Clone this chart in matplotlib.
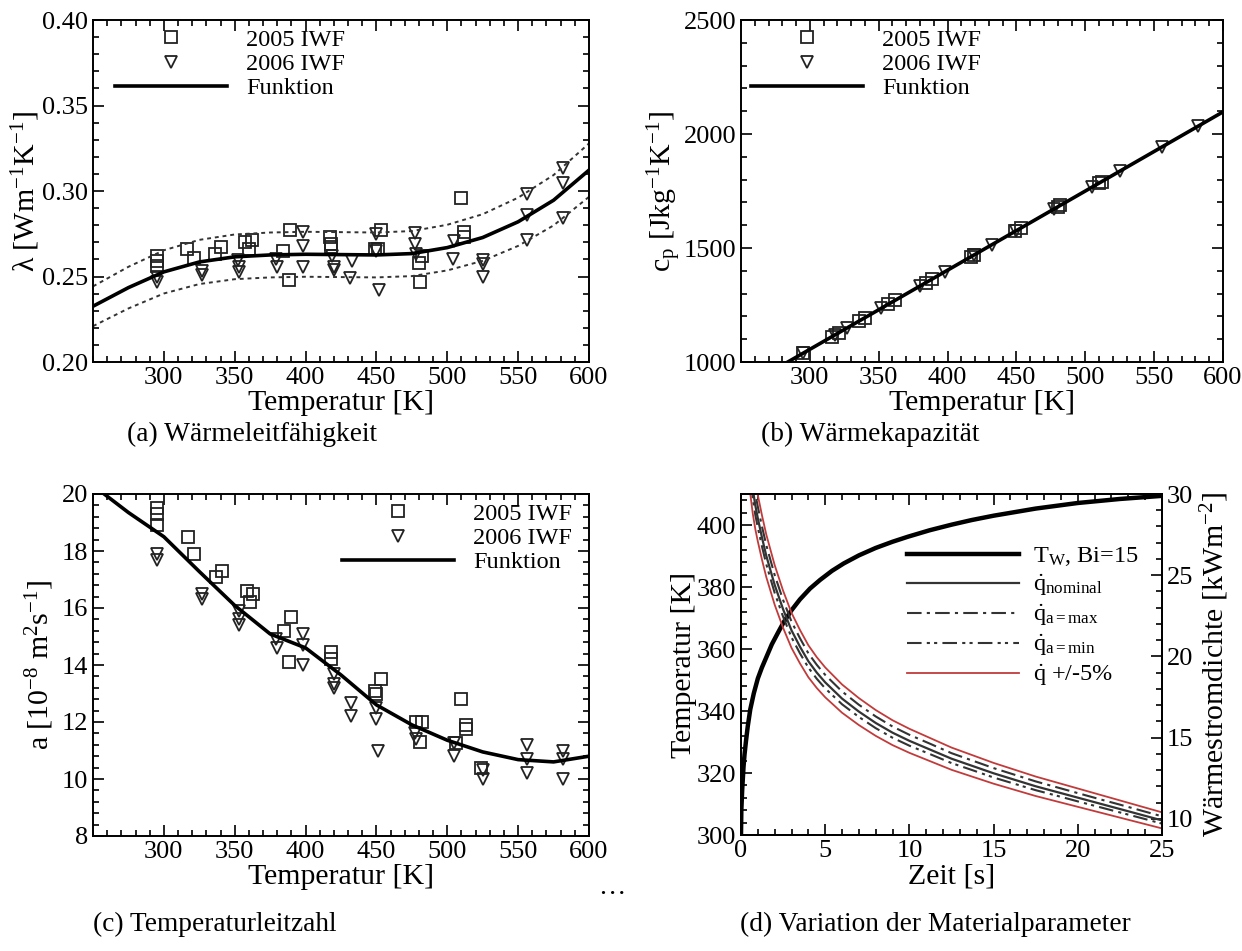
import numpy as np
import matplotlib
matplotlib.use("Agg")
import matplotlib.pyplot as plt
from matplotlib.lines import Line2D
from matplotlib.ticker import MultipleLocator, FormatStrFormatter

plt.rcParams['font.family'] = ['Liberation Serif', 'DejaVu Serif']
plt.rcParams['mathtext.fontset'] = 'custom'
plt.rcParams['mathtext.rm'] = 'Liberation Serif'
plt.rcParams['mathtext.it'] = 'Liberation Serif:italic'
plt.rcParams['mathtext.default'] = 'regular'

# Messpunkte (Temperatur in K)
T05 = [295, 295, 295, 316, 321, 336, 340, 357, 360, 362, 384, 389, 388, 417, 418, 418,
       449, 451, 453, 480, 482, 481, 510, 512, 512]
T06 = [295, 295, 327, 327, 352, 353, 353, 379, 380, 398, 398, 398, 419, 420, 420, 431, 433,
       450, 450, 452, 477, 477, 478, 504, 505, 525, 525, 525, 556, 556, 556, 582, 582, 582]

# Waermeleitfaehigkeit
lam05 = [0.262, 0.259, 0.256, 0.266, 0.261, 0.263, 0.267, 0.270, 0.266, 0.2716, 0.265, 0.277,
         0.248, 0.273, 0.269, 0.267, 0.266, 0.266, 0.277, 0.258, 0.262, 0.2465, 0.296, 0.276, 0.273]
lam06 = [0.250, 0.247, 0.2507, 0.253, 0.2595, 0.2556, 0.2527, 0.2605, 0.2556, 0.276, 0.2677, 0.2556,
         0.262, 0.2556, 0.2537, 0.249, 0.259, 0.275, 0.265, 0.242, 0.2755, 0.269, 0.263,
         0.2605, 0.271, 0.2595, 0.2576, 0.2497, 0.2985, 0.2859, 0.2712, 0.3132, 0.3044, 0.284]
T_fun = [250, 275, 300, 325, 350, 375, 400, 425, 450, 475, 500, 525, 550, 575, 600]
lam_fun = [0.2326, 0.2435, 0.2527, 0.2585, 0.2615, 0.2626, 0.263, 0.2628, 0.2626, 0.2634,
           0.2669, 0.2728, 0.282, 0.2946, 0.3122]
lam_band = 0.05  # +/- 5 %

# Waermekapazitaet
T05_cp = [295, 316, 321, 336, 340, 357, 362, 384, 389, 417, 419, 449, 453, 480, 482, 510, 512]
cp05 = [1038, 1111, 1128, 1180, 1194, 1253, 1271, 1347, 1364, 1462, 1468, 1573, 1586, 1680, 1687,
        1784, 1791]
T06_cp = [295, 318, 327, 352, 380, 398, 419, 432, 450, 477, 505, 525, 556, 582]
cp06 = [1038, 1118, 1149, 1236, 1333, 1396, 1468, 1514, 1576, 1670, 1767, 1836, 1944, 2034]
T_cp_fun = [250, 600]
cp_fun = [882, 2097]

# Temperaturleitzahl
a05_T = [295, 295, 295, 317, 321, 337, 341, 359, 361, 363, 385, 390, 388, 418, 418, 449, 450, 453,
         478, 482, 481, 510, 513, 513, 506, 524]
a05 = [19.5, 19.3, 18.9, 18.5, 17.9, 17.1, 17.3, 16.6, 16.2, 16.5, 15.2, 15.7, 14.1, 14.45, 14.2,
       13.1, 13.0, 13.5, 12.0, 12.0, 11.3, 12.8, 11.9, 11.75, 11.25, 10.4]
a06_T = [295, 295, 327, 327, 353, 353, 353, 379, 380, 398, 398, 398, 420, 420, 420, 432, 432,
         450, 450, 451, 477, 478, 505, 505, 525, 525, 556, 556, 556, 582, 582, 582]
a06 = [17.9, 17.7, 16.5, 16.3, 15.9, 15.6, 15.4, 14.9, 14.6, 15.1, 14.7, 14.0, 13.7, 13.35, 13.2,
       12.65, 12.2, 12.5, 12.1, 11.0, 11.6, 11.4, 11.25, 10.8, 10.3, 10.0, 11.2, 10.7, 10.2, 11.0,
       10.7, 10.0]
a_fun = [20.3, 19.35, 18.5, 17.28, 16.09, 15.09, 14.6, 13.65, 12.6, 11.9, 11.36, 10.95, 10.68,
         10.6, 10.8]

# Variation der Materialparameter
t_w = [0, 0.02, 0.07, 0.15, 0.21, 0.3, 0.4, 0.55, 0.76, 1.0, 1.24, 1.5, 1.83, 2.2, 2.54, 3.0,
       3.5, 4.1, 4.7, 5.4, 6.1, 7.0, 8.0, 9.0, 9.9, 11.2, 12.5, 13.7, 15.0, 17.5, 20.0, 22.5, 25.0]
T_w = [300, 308, 314.5, 322, 326, 330.5, 335, 340.5, 345.7, 350.5, 354, 357.3, 361.5, 365.3,
       368.7, 372.5, 376, 379.5, 382.3, 385.2, 387.6, 390.2, 392.6, 394.6, 396.2, 398.3, 400.1,
       401.6, 403.0, 405.3, 407.1, 408.4, 409.4]
t_q = [0.4, 0.55, 0.7, 0.85, 1.0, 1.25, 1.5, 1.75, 2, 2.5, 3, 3.5, 4, 4.5, 5, 6, 7, 8, 9, 10,
       11.25, 12.5, 13.75, 15, 16.25, 17.5, 18.75, 20, 21.25, 22.5, 23.75, 25]
q_nom = [34.0, 31.6, 30.3, 29.3, 28.5, 27.3, 26.2, 25.3, 24.4, 22.9, 21.6, 20.6, 19.7, 19.0,
         18.4, 17.4, 16.6, 15.9, 15.3, 14.8, 14.25, 13.7, 13.25, 12.8, 12.4, 12.0, 11.65, 11.3,
         10.95, 10.6, 10.25, 9.9]
q_amax = [34.85, 32.39, 31.06, 30.03, 29.21, 27.98, 26.86, 25.93, 25.01, 23.47, 22.14, 21.12,
          20.19, 19.48, 18.86, 17.84, 17.02, 16.30, 15.68, 15.17, 14.61, 14.04, 13.58, 13.12,
          12.71, 12.30, 11.94, 11.58, 11.22, 10.87, 10.51, 10.15]
q_amin = [33.32, 30.97, 29.69, 28.71, 27.93, 26.75, 25.68, 24.79, 23.91, 22.44, 21.17, 20.19,
          19.31, 18.62, 18.03, 17.05, 16.27, 15.58, 14.99, 14.50, 13.97, 13.43, 12.99, 12.54,
          12.15, 11.76, 11.42, 11.07, 10.73, 10.39, 10.05, 9.70]
q_var = 0.05
q_start = [16.8, 40.0]  # senkrechter Anlauf der unteren Kurve bei t = 0

W, H = 1242, 951
fig = plt.figure(figsize=(W / 100, H / 100), dpi=100)


def box(l, t, r, b):
    return [l / W, 1 - b / H, (r - l) / W, (b - t) / H]


ax_a = fig.add_axes(box(93, 20, 589, 362))
ax_b = fig.add_axes(box(741, 20, 1223, 362))
ax_c = fig.add_axes(box(93, 494, 589, 836))
ax_d = fig.add_axes(box(741, 494, 1162, 835))

tick_fs = 19
lab_fs = 21.5
leg_fs = 17.5
cap_fs = 19.7
mk = dict(ms=8.5, mfc='none', mec='#222222', mew=1.3, ls='none')


def style(ax, right=True):
    for s in ax.spines.values():
        s.set_linewidth(1.4)
    ax.tick_params(which='both', direction='in', top=True, right=right, labelsize=tick_fs, width=1.2)
    ax.tick_params(which='major', length=8)
    ax.tick_params(which='minor', length=4)


def marker_legend(ax, x, y):
    h = [Line2D([], [], marker='s', **mk), Line2D([], [], marker='v', **mk),
         Line2D([], [], color='black', lw=2.6)]
    ax.legend(h, ['2005 IWF', '2006 IWF', 'Funktion'], loc='upper left', bbox_to_anchor=(x, y),
              frameon=False, fontsize=leg_fs, handlelength=4.6, handletextpad=0.8,
              labelspacing=0.1, borderpad=0, borderaxespad=0)


# (a)
ax = ax_a
ax.plot(T05, lam05, marker='s', **mk)
ax.plot(T06, lam06, marker='v', **mk)
lam_fun = np.array(lam_fun)
ax.plot(T_fun, lam_fun * (1 + lam_band), color='#333333', lw=1.4, ls=(0, (2, 2)))
ax.plot(T_fun, lam_fun * (1 - lam_band), color='#333333', lw=1.4, ls=(0, (2, 2)))
ax.plot(T_fun, lam_fun, color='black', lw=2.6)
ax.set_xlim(250, 600)
ax.set_ylim(0.2, 0.4)
ax.set_xticks([300, 350, 400, 450, 500, 550, 600])
ax.xaxis.set_minor_locator(MultipleLocator(10))
ax.yaxis.set_major_locator(MultipleLocator(0.05))
ax.yaxis.set_minor_locator(MultipleLocator(0.01))
ax.yaxis.set_major_formatter(FormatStrFormatter('%.2f'))
ax.set_xlabel('Temperatur [K]', fontsize=lab_fs, labelpad=1)
ax.set_ylabel(r'$\lambda$ [Wm$^{-1}$K$^{-1}$]', fontsize=lab_fs, labelpad=0)
style(ax)
marker_legend(ax, 0.044, 0.975)

# (b)
ax = ax_b
ax.plot(T05_cp, cp05, marker='s', **mk)
ax.plot(T06_cp, cp06, marker='v', **mk)
ax.plot(T_cp_fun, cp_fun, color='black', lw=2.6)
ax.set_xlim(250, 600)
ax.set_ylim(1000, 2500)
ax.set_xticks([300, 350, 400, 450, 500, 550, 600])
ax.xaxis.set_minor_locator(MultipleLocator(10))
ax.yaxis.set_major_locator(MultipleLocator(500))
ax.yaxis.set_minor_locator(MultipleLocator(100))
ax.set_xlabel('Temperatur [K]', fontsize=lab_fs, labelpad=1)
ax.set_ylabel(r'c$_p$ [Jkg$^{-1}$K$^{-1}$]', fontsize=lab_fs, labelpad=0)
style(ax)
marker_legend(ax, 0.021, 0.975)

# (c)
ax = ax_c
ax.plot(a05_T, a05, marker='s', **mk)
ax.plot(a06_T, a06, marker='v', **mk)
ax.plot(T_fun, a_fun, color='black', lw=2.6)
ax.set_xlim(250, 600)
ax.set_ylim(8, 20)
ax.set_xticks([300, 350, 400, 450, 500, 550, 600])
ax.xaxis.set_minor_locator(MultipleLocator(10))
ax.yaxis.set_major_locator(MultipleLocator(2))
ax.yaxis.set_minor_locator(MultipleLocator(0.4))
ax.set_xlabel('Temperatur [K]', fontsize=lab_fs, labelpad=1)
ax.set_ylabel(r'a [10$^{-8}$ m$^{2}$s$^{-1}$]', fontsize=lab_fs, labelpad=4)
style(ax)
marker_legend(ax, 0.502, 0.975)

# (d)
ax = ax_d
ax.plot(t_w, T_w, color='black', lw=3.2, zorder=5)
ax.set_xlim(0, 25)
ax.set_ylim(300, 410)
ax.xaxis.set_major_locator(MultipleLocator(5))
ax.xaxis.set_minor_locator(MultipleLocator(1))
ax.yaxis.set_major_locator(MultipleLocator(20))
ax.yaxis.set_minor_locator(MultipleLocator(4))
ax.set_xlabel('Zeit [s]', fontsize=lab_fs, labelpad=1)
ax.set_ylabel('Temperatur [K]', fontsize=lab_fs, labelpad=0)
style(ax, right=False)

axq = ax.twinx()
red = '#c23b3b'
grey = '#333333'
dash1 = (0, (7, 2.5, 1.5, 2.5))
dash2 = (0, (7, 2.5, 1.5, 2, 1.5, 2.5))
q_nom = np.array(q_nom)
axq.plot(t_q, q_nom, color=grey, lw=1.6)
axq.plot(t_q, q_amax, color=grey, lw=1.5, ls=dash1)
axq.plot(t_q, q_amin, color=grey, lw=1.5, ls=dash2)
axq.plot(t_q, q_nom * (1 + q_var), color=red, lw=1.3)
axq.plot([0, 0] + t_q, q_start + list(q_nom * (1 - q_var)), color=red, lw=1.3)
axq.set_ylim(9, 30)
axq.yaxis.set_major_locator(MultipleLocator(5))
axq.yaxis.set_minor_locator(MultipleLocator(1))
axq.set_ylabel(r'Wärmestromdichte [kWm$^{-2}$]', fontsize=lab_fs, labelpad=4)
for s in axq.spines.values():
    s.set_linewidth(1.4)
axq.tick_params(which='both', direction='in', labelsize=tick_fs, width=1.2)
axq.tick_params(which='major', length=8)
axq.tick_params(which='minor', length=4)

h_d = [Line2D([], [], color='black', lw=3.2),
       Line2D([], [], color=grey, lw=1.6),
       Line2D([], [], color=grey, lw=1.5, ls=dash1),
       Line2D([], [], color=grey, lw=1.5, ls=dash2),
       Line2D([], [], color=red, lw=1.3)]
l_d = [r'T$_{W}$, Bi=15', r'$\dot{\mathrm{q}}_{\mathrm{nominal}}$',
       r'$\dot{\mathrm{q}}_{\mathrm{a=max}}$', r'$\dot{\mathrm{q}}_{\mathrm{a=min}}$',
       r'$\dot{\mathrm{q}}$ +/-5%']
axq.legend(h_d, l_d, loc='upper left', bbox_to_anchor=(0.394, 0.85), frameon=False,
           fontsize=leg_fs, handlelength=4.6, handletextpad=0.6, labelspacing=0.2,
           borderpad=0, borderaxespad=0)

fig.text(252 / W, 1 - 434 / H, '(a) Wärmeleitfähigkeit', fontsize=cap_fs, ha='center', va='center')
fig.text(870 / W, 1 - 434 / H, '(b) Wärmekapazität', fontsize=cap_fs, ha='center', va='center')
fig.text(215 / W, 1 - 924 / H, '(c) Temperaturleitzahl', fontsize=cap_fs, ha='center', va='center')
fig.text(935 / W, 1 - 924 / H, '(d) Variation der Materialparameter', fontsize=cap_fs,
         ha='center', va='center')
fig.text(612 / W, 1 - 887 / H, '…', fontsize=cap_fs, ha='center', va='center')

fig.savefig('out.png', dpi=100)
